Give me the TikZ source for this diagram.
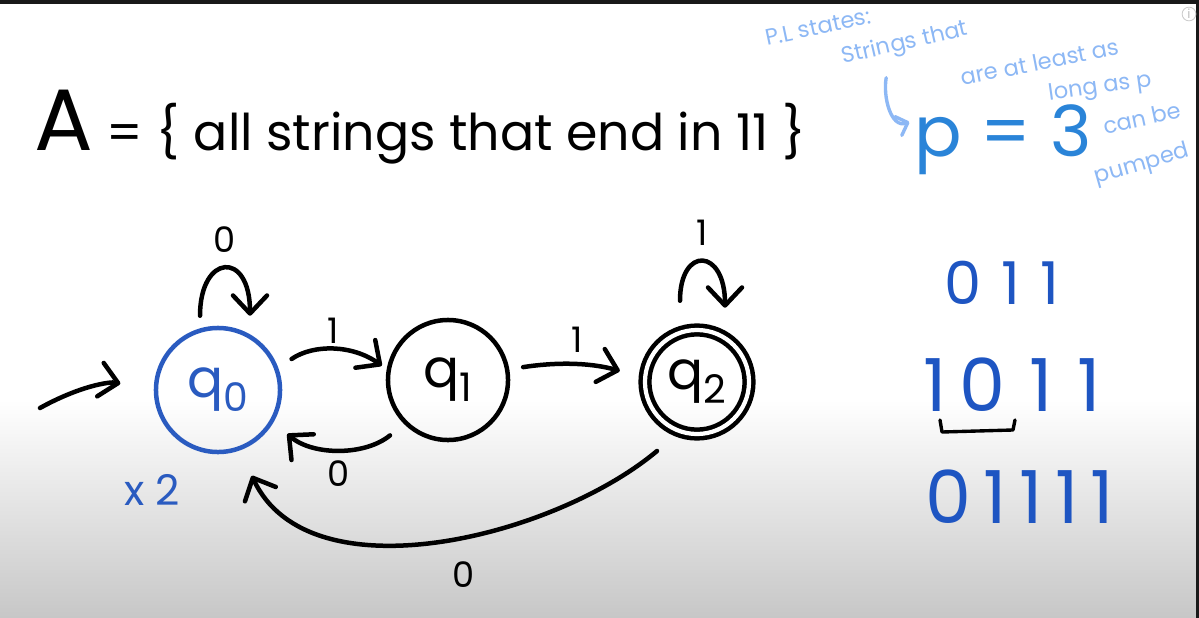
\documentclass[tikz,border=0pt]{standalone}
\usepackage{fontspec}
\setmainfont{Poppins}
\usetikzlibrary{positioning,arrows.meta,calc}
\definecolor{stateblue}{HTML}{2A5BC0}
\definecolor{numblue}{HTML}{1E55C2}
\definecolor{pblue}{HTML}{2A84D8}
\definecolor{noteblue}{HTML}{8DB8F5}
\newcommand{\fs}[1]{\fontsize{#1}{#1}\selectfont}
\newcommand{\qsub}[1]{q\raisebox{-0.45ex}{\fs{28}#1}}

\begin{document}
\begin{tikzpicture}[x=0.025cm,y=0.025cm]
   \tikzstyle{st}=[circle,draw,line width=3.2pt,minimum size=3cm,inner sep=0pt,font=\fs{38}];
   \tikzstyle{l}=[draw,line width=3.2pt,line cap=round,-{Straight Barb[round,length=4.5mm,width=8.5mm]}];
   \tikzstyle{lbl}=[font=\fs{25}];
   \tikzstyle{note}=[text=noteblue,font=\fs{16}];
   % page
   \fill[white] (0,0) rectangle (1199,-618);
   \shade[top color=white,bottom color=black!22] (0,-400) rectangle (1199,-618);
   \fill[black!90] (0,0) rectangle (1199,-4);
   \fill[black!90] (1196,0) rectangle (1199,-618);
   \useasboundingbox (0,0) rectangle (1199,-618);
   % language
   \node[font=\fs{36}] (title) at (420,-127) {{\fs{62}A} = \{ all strings that end in 11 \}};
   % states
   \node[st,draw=stateblue,text=stateblue,minimum size=3.1cm] (q0) at (218,-390) {\qsub{0}};
   \node[st]  (q1) at (448,-380) {\qsub{1}};
   \node[st,double,double distance=3pt,minimum size=2.6cm] (q2) at (697,-382) {\qsub{2}};
   \coordinate (start) at (40,-408);
   \draw[l,shorten >=0.85cm] (start) to[bend left=20] (q0.west);
   \draw[l] ($(q0.north)+(-18,10)$) .. controls +(0,62) and +(0,66) .. node[lbl,above=6pt]{0} ($(q0.north)+(32,10)$);
   \draw[l,shorten <=0.4cm,shorten >=0.15cm] (q0.20) to[bend left=35] node[lbl,above]{1} (q1.170);
   \draw[l,shorten <=0.45cm,shorten >=0.45cm] (q1.225) to[bend left=40] node[lbl,below=4pt]{0} (q0.330);
   \draw[l,shorten <=0.35cm,shorten >=0.6cm] (q1.10) to[bend left=12] node[lbl,above=4pt]{1} (q2.175);
   \draw[l] ($(q2.north)+(-17,27)$) .. controls +(0,55) and +(0,60) .. node[lbl,above=6pt]{1} ($(q2.north)+(28,20)$);
   \draw[l,shorten <=0.7cm,shorten >=0.7cm] (q2.250) to[out=220,in=-65,looseness=0.95] node[lbl,below=16pt,pos=0.45]{0} (q0.290);
   \node[text=stateblue,font=\fs{30}] (times) at (152,-490) {x 2};
   % example strings
   \node[text=numblue,font=\fs{42}] (w1) at (1002,-283) {0\,\,1\,\,1};
   \node[text=numblue,font=\fs{52}] (w2) at (1012,-385) {1\,0\,\,1\,\,1};
   \node[text=numblue,font=\fs{52}] (w3) at (1020,-497) {0\,1\,1\,1\,1};
   \draw[line width=2.4pt,line cap=round,line join=round] (940,-420) -- (942,-432) -- (1013,-430) -- (1015,-420);
   % pumping length note
   \node[note,rotate=12] (pl) at (818,-27) {P.L states:};
   \node[note,rotate=13] (s1) at (905,-44) {Strings that};
   \node[note,rotate=11] (s2) at (1040,-62) {are at least as};
   \node[note,rotate=8] (s3) at (1100,-88) {long as p};
   \node[note,rotate=12] (s4) at (1142,-118) {can be};
   \node[note,rotate=16] (s5) at (1142,-165) {pumped};
   \node[text=pblue,font=\fs{50}] (pval) at (1003,-140) {p = 3};
   \draw[noteblue,line width=2.4pt,line cap=round,-{Straight Barb[round,length=2.5mm,width=5mm]}] ($(s1.south west)+(45,-2)$) to[out=-100,in=200] ($(pval.west)+(0,18)$);
   \node[circle,draw=black!20,text=black!25,inner sep=1pt,font=\fs{9},line width=0.6pt] (info) at (1189,-14) {i};
\end{tikzpicture}
\end{document}
